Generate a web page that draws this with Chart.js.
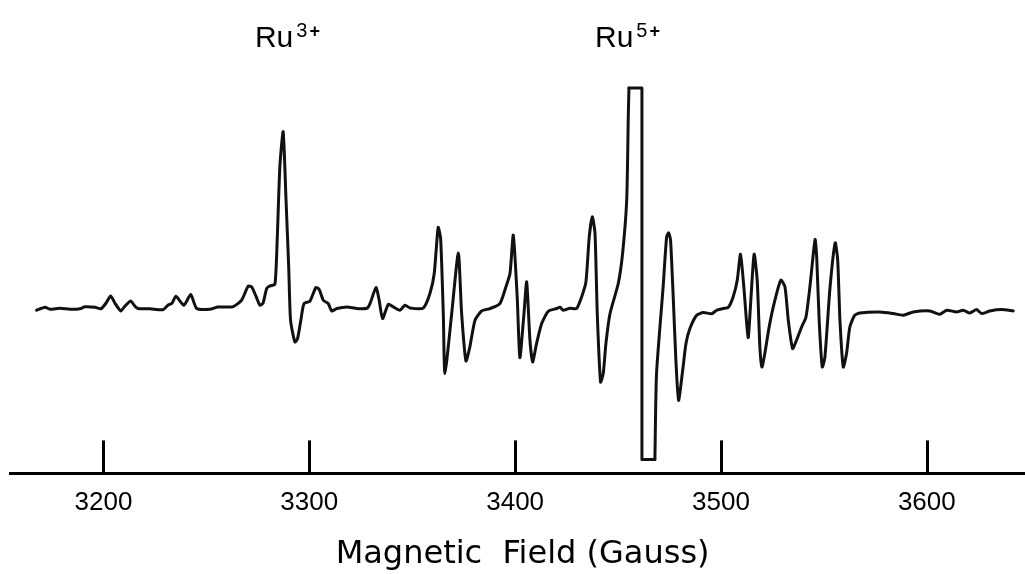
<!DOCTYPE html>
<html>
<head>
<meta charset="utf-8">
<title>EPR spectrum Ru3+ / Ru5+</title>
<script src="https://cdn.jsdelivr.net/npm/chart.js@4"></script>
<style>
    html, body { margin: 0; padding: 0; background: #fff; }
    canvas { display: block; }
</style>
</head>
<body>
<canvas id="epr-chart" width="1025" height="574"></canvas>
<script>
// magnetic field (Gauss) for each point of the trace
const fieldGauss = [
    3167.5, 3171.6, 3174.0, 3178.9, 3183.7, 3188.6, 3191.0, 3195.9, 3198.8, 3201.2,
    3203.5, 3205.6, 3208.4, 3210.4, 3213.2, 3215.3, 3216.8, 3222.6, 3228.9, 3231.3,
    3233.3, 3235.2, 3239.1, 3242.4, 3245.3, 3251.7, 3255.6, 3262.9, 3267.1, 3270.3,
    3272.0, 3274.1, 3276.0, 3277.5, 3279.3, 3280.9, 3283.3, 3284.4, 3285.7, 3287.3,
    3288.7, 3290.0, 3290.9, 3293.0, 3294.3, 3295.9, 3297.4, 3300.3, 3303.2, 3304.8,
    3306.8, 3309.2, 3310.9, 3313.4, 3318.3, 3323.1, 3328.0, 3329.5, 3332.4, 3333.8,
    3335.6, 3338.4, 3340.8, 3344.0, 3346.5, 3348.9, 3355.4, 3358.6, 3360.7, 3362.6,
    3363.8, 3365.1, 3365.9, 3369.2, 3372.4, 3374.0, 3376.1, 3378.0, 3380.5, 3383.7,
    3387.8, 3392.6, 3395.5, 3397.5, 3399.1, 3401.0, 3402.3, 3404.3, 3405.6, 3407.2,
    3408.5, 3410.4, 3412.9, 3416.1, 3420.2, 3421.8, 3423.4, 3426.6, 3429.9, 3432.3,
    3434.4, 3436.0, 3437.5, 3438.8, 3439.9, 3441.5, 3442.8, 3444.1, 3446.1, 3450.1,
    3452.2, 3454.2, 3455.0, 3455.3, 3461.6, 3461.6, 3467.9, 3468.7, 3471.9, 3473.6,
    3474.6, 3475.5, 3476.8, 3478.1, 3479.4, 3481.4, 3483.0, 3484.9, 3488.2, 3491.4,
    3495.5, 3497.9, 3501.1, 3503.5, 3505.9, 3507.9, 3509.5, 3511.1, 3513.2, 3514.4,
    3516.1, 3517.6, 3518.9, 3519.9, 3521.3, 3523.4, 3526.2, 3529.1, 3531.1, 3532.7,
    3534.8, 3536.7, 3539.2, 3541.3, 3543.2, 3545.7, 3546.5, 3547.7, 3549.2, 3550.5,
    3553.0, 3555.5, 3556.7, 3557.8, 3559.4, 3561.0, 3562.6, 3565.0, 3567.5, 3577.2,
    3583.7, 3588.5, 3593.4, 3601.5, 3606.3, 3609.6, 3614.5, 3617.7, 3620.9, 3624.2,
    3626.6, 3630.6, 3636.3, 3642.0
];

// derivative signal (arbitrary units, baseline = 0); the Ru5+ centre line is off scale
const signal = [
    -2, 1, -1, 0, -1, -0.5, 1.5, 1, -0.5, 5,
    12.3, 5, -2.7, 2, 7.3, 2, -0.3, -0.5, -1.5, 3,
    5, 12, 3, 13.7, -0.3, -1, 1.3, 1.5, 8, 22,
    21.3, 12, 3, 5, 19.7, 22.3, 24, 68, 141.3, 176.3,
    108, 41.3, -12, -33.7, -30.3, -12, 4.7, 7, 20.7, 18.7,
    8, 4.7, -2.7, -0.3, 1.3, -0.3, 0, 4.7, 20.7, 9.7,
    -10.3, 4, 1.3, -2, 3, 0.3, 0.3, 14.7, 34.7, 80.7,
    69.7, -5.3, -65.3, -5, 55.3, -5, -52.7, -38.7, -12, -2.7,
    -0.3, 4.7, 21.3, 34.7, 73, 11.3, -49.3, -5.3, 26.3, -32,
    -53.7, -35.3, -15.3, -3, -0.3, 1, -2, 0, -0.3, 11.3,
    26.3, 71.3, 91.3, 74.7, -5.3, -73.7, -65.3, -35.3, -5.3, 24.7,
    54.7, 108, 194.7, 220, 220, -151, -151, -65, 21.3, 71.3,
    75.3, 68, 11.3, -52, -92, -62, -35.3, -20.3, -7, -4.3,
    -5.5, -2, -0.3, 0.7, 11.3, 28, 54, 21.3, -29.3, 4.7,
    54, 28, -38.7, -58.7, -45.3, -18.7, 8, 28, 21.3, -12,
    -40.3, -32, -18.7, -8.7, 21.3, 68.7, 51.3, -12, -58.7, -48.7,
    21.3, 65.3, 48, -12, -58.7, -45.3, -18.7, -7, -4.7, -3.7,
    -5.3, -7, -3.7, -2.7, -6, -2, -3.7, -2, -4.7, -1.3,
    -5.3, -2.7, -1.3, -2.7
];

// indices where the recorder pen was clipped (flat top / flat bottom of the Ru5+ line)
const clipStart = 113;
const clipEnd = 116;

const tickValues = [3200, 3300, 3400, 3500, 3600];

// species labels above the spectrum
const speciesNames = ['Ru', 'Ru'];
const speciesCharges = ['3', '5'];
const speciesField = [3273.6, 3438.8];

const axisTitle = ' Magnetic  Field (Gauss)';

const points = fieldGauss.map((g, i) => ({ x: g, y: signal[i] }));

function traceDataset(data, tension) {
    return {
        data: data,
        borderColor: '#111',
        borderWidth: 3,
        borderJoinStyle: 'round',
        borderCapStyle: 'round',
        pointRadius: 0,
        tension: tension,
        fill: false
    };
}

// small upward tick marks standing on the field axis, plus the Ru labels
const fieldAxisDecor = {
    id: 'fieldAxisDecor',
    afterDraw(chart) {
        const ctx = chart.ctx;
        const xScale = chart.scales.x;
        const axisY = xScale.top;

        ctx.save();
        ctx.strokeStyle = '#000';
        ctx.lineWidth = 3;
        tickValues.forEach(v => {
            const px = Math.round(xScale.getPixelForValue(v)) + 0.5;
            ctx.beginPath();
            ctx.moveTo(px, axisY);
            ctx.lineTo(px, axisY - 33);
            ctx.stroke();
        });

        ctx.fillStyle = '#000';
        ctx.textBaseline = 'alphabetic';
        ctx.textAlign = 'left';
        speciesNames.forEach((name, i) => {
            const left = xScale.getPixelForValue(speciesField[i]);
            ctx.font = '30px "Liberation Sans", Arial, sans-serif';
            ctx.fillText(name, left, 47);
            const w = ctx.measureText(name).width;
            ctx.font = '20px "Liberation Sans", Arial, sans-serif';
            ctx.fillText(speciesCharges[i], left + w + 3, 37);
            const w2 = ctx.measureText(speciesCharges[i]).width;
            ctx.font = 'bold 18px "Liberation Sans", Arial, sans-serif';
            ctx.fillText('+', left + w + 5 + w2, 37);
        });
        ctx.restore();
    }
};

const chartInstance = new Chart(document.getElementById('epr-chart').getContext('2d'), {
    type: 'line',
    data: {
        datasets: [
            traceDataset(points.slice(0, clipStart + 1), 0.2),
            traceDataset(points.slice(clipStart, clipEnd + 1), 0),
            traceDataset(points.slice(clipEnd), 0.2)
        ]
    },
    options: {
        responsive: false,
        animation: false,
        devicePixelRatio: 1,
        parsing: false,
        layout: {
            padding: { left: 10, right: 0, top: 60, bottom: 0 }
        },
        plugins: {
            legend: { display: false },
            tooltip: { enabled: false }
        },
        scales: {
            x: {
                type: 'linear',
                min: 3154.6,
                max: 3647.7,
                afterBuildTicks: scale => {
                    scale.ticks = tickValues.map(v => ({ value: v }));
                },
                grid: { display: false, drawTicks: false },
                border: { display: true, color: '#000', width: 3 },
                ticks: {
                    color: '#000',
                    padding: 14,
                    maxRotation: 0,
                    autoSkip: false,
                    font: { family: '"Liberation Sans", Arial, sans-serif', size: 26 },
                    callback: v => String(v)
                },
                title: {
                    display: true,
                    text: axisTitle,
                    color: '#000',
                    padding: { top: 3, bottom: 0 },
                    font: { family: '"DejaVu Sans", sans-serif', size: 32 }
                }
            },
            y: {
                display: false,
                min: -165,
                max: 248
            }
        }
    },
    plugins: [fieldAxisDecor]
});
</script>
</body>
</html>
